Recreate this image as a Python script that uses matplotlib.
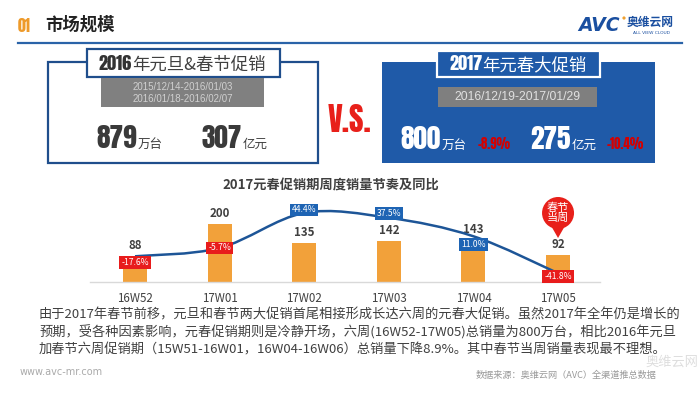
import numpy as np
import matplotlib
matplotlib.use('Agg')
import matplotlib.pyplot as plt
from matplotlib import font_manager as fm
from matplotlib.patches import Rectangle, Circle, Polygon, PathPatch
from matplotlib.path import Path

# ---------------- data ----------------
weeks = ['16W52', '17W01', '17W02', '17W03', '17W04', '17W05']
sales = [88, 200, 135, 142, 143, 92]           # 万台
yoy = [-17.6, -5.7, 44.4, 37.5, 11.0, -41.8]   # %

vol_2016, val_2016 = '879', '307'
vol_2017, val_2017 = '800', '275'
vol_change, val_change = '-8.9%', '-10.4%'
dates_2016 = ['2015/12/14-2016/01/03', '2016/01/18-2016/02/07']
dates_2017 = '2016/12/19-2017/01/29'

para = ['由于2017年春节前移，元旦和春节两大促销首尾相接形成长达六周的元春大促销。虽然2017年全年仍是增长的',
        '预期，受各种因素影响，元春促销期则是冷静开场，六周(16W52-17W05)总销量为800万台，相比2016年元旦',
        '加春节六周促销期（15W51-16W01，16W04-16W06）总销量下降8.9%。其中春节当周销量表现最不理想。']

# label placement relative to the line point (pixels, + = below)
label_dy = [6, 0, -3, -4, 8, 3]

# ---------------- setup ----------------
W, H = 700, 394
plt.rcParams['font.family'] = ['Noto Sans CJK SC', 'DejaVu Sans']
CN = ['Noto Sans CJK SC', 'DejaVu Sans']
LIB = ['Liberation Sans', 'DejaVu Sans']
available = {f.name for f in fm.fontManager.ttflist}
impact_pref = ['Impact', 'Anton', 'Oswald', 'Roboto Condensed', 'Liberation Sans Narrow', 'DejaVu Sans']
IMP = [f for f in impact_pref if f in available][:1] + ['DejaVu Sans']
IMPW = 'normal' if IMP[0] in ('Impact', 'Anton') else 'bold'

fig = plt.figure(figsize=(7, 3.94), dpi=100)
fig.patch.set_facecolor('white')

ov = fig.add_axes([0, 0, 1, 1], zorder=10)
ov.set_xlim(0, W); ov.set_ylim(H, 0); ov.axis('off'); ov.patch.set_alpha(0)

renderer = fig.canvas.get_renderer()


def fit_size(s, kw, target_w):
    t = ov.text(0, 0, s, fontsize=10, **kw)
    w = t.get_window_extent(renderer).width
    t.remove()
    return 10 * target_w / w


def runs(x, y, parts, ha='left'):
    ts = []
    cx = x
    for s, kw, gap in parts:
        cx += gap
        t = ov.text(cx, y, s, va='baseline', ha='left', **kw)
        cx += t.get_window_extent(renderer).width
        ts.append(t)
    if ha == 'center':
        shift = (cx - x) / 2
        for t in ts:
            px, py = t.get_position()
            t.set_x(px - shift)
    return ts

imp = dict(family=IMP, fontweight=IMPW)

# ---------------- header ----------------
s01 = fit_size('01', imp, 13)
ov.text(18, 26, '01', fontsize=s01, color='#ee9a2a', va='center', **imp)
ov.text(45, 25, '市场规模', family=CN, fontweight='bold', fontsize=12.5, color='#222222', va='center')
ov.plot([18, 682], [43, 43], color='#2a63a8', lw=1.6)
ov.text(578, 25, 'AVC', family=['DejaVu Sans'], fontweight='bold', fontstyle='italic',
        fontsize=13.5, color='#1a4fa0', va='center')
ov.add_patch(Circle((624, 18), 1.6, fc='#f0a030', ec='none'))
ov.text(627, 22, '奥维云网', family=CN, fontweight='bold', fontsize=8.5, color='#1a4fa0', va='center')
ov.text(633, 33, 'ALL VIEW CLOUD', family=['DejaVu Sans'], fontsize=3.2, color='#1a4fa0', va='center')

# sizes fitted to the reference widths
big_size = fit_size(vol_2016, imp, 40)
yr_size = fit_size('2016', imp, 33)
chg_size = fit_size(val_change, imp, 37)
vs_size = fit_size('V.S.', imp, 44)

# ---------------- left box ----------------
ov.add_patch(Rectangle((48, 62), 270, 101, fill=False, ec='#1f4e8c', lw=1.6))
ov.add_patch(Rectangle((87, 49), 193, 28, fc='white', ec='#1f4e8c', lw=1.6))
ov.add_patch(Rectangle((101, 78), 163, 29, fc='#808080', ec='none'))
ov.text(182.5, 87, dates_2016[0], family=LIB, fontsize=7, color='#d0d0d0', ha='center', va='center')
ov.text(182.5, 99, dates_2016[1], family=LIB, fontsize=7, color='#d0d0d0', ha='center', va='center')
runs(182, 70, [('2016', dict(fontsize=yr_size, color='#333333', **imp), 0),
               ('年元旦&春节促销', dict(family=CN, fontsize=12.5, color='#404040'), 0)], ha='center')
big_dark = dict(fontsize=big_size, color='#3a3a3a', **imp)
unit_dark = dict(family=CN, fontsize=9, color='#404040')
runs(96, 148, [(vol_2016, big_dark, 0), ('万台', unit_dark, 1)])
runs(201, 148, [(val_2016, big_dark, 0), ('亿元', unit_dark, 1)])

# V.S.
ov.text(350, 120, 'V.S.', fontsize=vs_size, color='#e8201a', ha='center', va='center', **imp)

# ---------------- right box ----------------
ov.add_patch(Rectangle((382, 62), 273, 101, fc='#1f5aa8', ec='none'))
ov.add_patch(Rectangle((437, 51), 163, 26, fc='#1f5aa8', ec='white', lw=1.6))
ov.add_patch(Rectangle((438, 87), 159, 20, fc='#7f7f7f', ec='none'))
ov.text(517.5, 97, dates_2017, family=LIB, fontsize=8.8, color='#e0e0e0', ha='center', va='center')
runs(518, 70, [('2017', dict(fontsize=yr_size, color='white', **imp), 0),
               ('年元春大促销', dict(family=CN, fontsize=12.5, color='white'), 0)], ha='center')
big_w = dict(fontsize=big_size, color='white', **imp)
unit_w = dict(family=CN, fontsize=9, color='white')
chg = dict(fontsize=chg_size, color='#d40000', **imp)
runs(400, 149, [(vol_2017, big_w, 0), ('万台', unit_w, 1), (vol_change, chg, 11)])
runs(530, 149, [(val_2017, big_w, 0), ('亿元', unit_w, 1), (val_change, chg, 10)])

# ---------------- chart ----------------
ov.text(331, 185, '2017元春促销期周度销量节奏及同比', family=CN, fontweight='bold', fontsize=9.5,
        color='#404040', ha='center', va='center')

ax = fig.add_axes([90 / W, (H - 282) / H, 510 / W, 87 / H], zorder=2)
ax.patch.set_visible(False)
x = np.arange(len(weeks))
ax.bar(x, sales, width=0.284, color='#f2a13a', zorder=2)
ax.set_xlim(-0.532, 5.496)
ax.set_ylim(0, 300)
for s in ['top', 'left', 'right']:
    ax.spines[s].set_visible(False)
ax.spines['bottom'].set_color('#d9d9d9')
ax.spines['bottom'].set_linewidth(1)
ax.set_yticks([])
ax.set_xticks(x, weeks)
ax.tick_params(axis='x', length=0, pad=7, labelsize=8.3, labelcolor='#404040')
for xi, v in zip(x, sales):
    ax.annotate(str(v), (xi, v), xytext=(0, 3), textcoords='offset points', ha='center',
                va='bottom', fontsize=8.3, fontweight='bold', color='#404040')

ax2 = ax.twinx()
ax2.set_ylim(-54.4, 70.1)
ax2.axis('off')
# smooth curve through the data points (Bezier, Catmull-Rom control points)
pts = np.column_stack([x, yoy]).astype(float)
verts = [tuple(pts[0])]
codes = [Path.MOVETO]
n = len(pts)
for i in range(n - 1):
    p0 = pts[i - 1] if i > 0 else pts[i]
    p1, p2 = pts[i], pts[i + 1]
    p3 = pts[i + 2] if i + 2 < n else pts[i + 1]
    c1 = p1 + (p2 - p0) / 6
    c2 = p2 - (p3 - p1) / 6
    verts += [tuple(c1), tuple(c2), tuple(p2)]
    codes += [Path.CURVE4] * 3
ax2.add_patch(PathPatch(Path(verts, codes), fc='none', ec='#1d5597', lw=1.8, zorder=3))
for xi, v, dy in zip(x, yoy, label_dy):
    ax2.annotate(f'{v:.1f}%', (xi, v), xytext=(0, -dy * 0.72), textcoords='offset points',
                 ha='center', va='center', fontsize=6.2, color='white', family=CN, zorder=5,
                 bbox=dict(boxstyle='square,pad=0.22', fc='#e81c1c' if v < 0 else '#1e64b4', ec='none'))

# callout for Spring Festival week
xc = ax.transData.transform((5, 0))[0]
ov.add_patch(Polygon([(xc - 8, 224), (xc + 8, 224), (xc, 238)], closed=True, fc='#e8201a', ec='none'))
ov.add_patch(Circle((xc, 213), 16, fc='#e8201a', ec='none'))
ov.text(xc, 213, '春节\n当周', family=CN, fontsize=8, color='white', ha='center', va='center',
        linespacing=1.0)

# ---------------- text ----------------
for i, line in enumerate(para):
    ov.text(39, 315 + i * 17.5, line, family=CN, fontsize=9.5, color='#404040', va='center')
ov.text(20, 372, 'www.avc-mr.com', family=['DejaVu Sans'], fontsize=7, color='#aaaaaa', va='center')
ov.text(476, 375, '数据来源：奥维云网（AVC）全渠道推总数据', family=CN, fontsize=6.6,
        color='#999999', va='center')
ov.text(698, 362, '奥维云网', family=CN, fontsize=9.5, color='#d6d6d6', fontstyle='italic',
        va='center', ha='right', alpha=0.8, zorder=-1)

fig.savefig('out.png', dpi=100, facecolor='white')
